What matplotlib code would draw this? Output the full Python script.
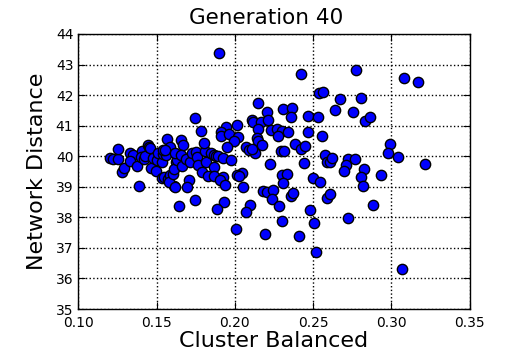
import numpy as np
import matplotlib
matplotlib.use('Agg')
import matplotlib.pyplot as plt

# points (cluster balanced, network distance)
cluster_balanced = [
    0.1200, 0.1225, 0.1257, 0.1253, 0.1279, 0.1293, 0.1332, 0.1349, 0.1332, 0.1378,
    0.1391, 0.1406, 0.1400, 0.1417, 0.1427, 0.1444, 0.1455, 0.1459, 0.1464, 0.1497,
    0.1480, 0.1506, 0.1534, 0.1512, 0.1540, 0.1561, 0.1566, 0.1587, 0.1540, 0.1555,
    0.1534, 0.1550, 0.1572, 0.1587, 0.1612, 0.1582, 0.1603, 0.1623, 0.1614, 0.1642,
    0.1633, 0.1655, 0.1672,
    0.1619, 0.1657, 0.1665, 0.1689, 0.1714, 0.1729, 0.1753, 0.1761, 0.1767, 0.1810,
    0.1814, 0.1793, 0.1827, 0.1848, 0.1865, 0.1878, 0.1869, 0.1865, 0.1891, 0.1927,
    0.1927, 0.1906, 0.1938, 0.1974, 0.1619, 0.1708, 0.1695, 0.1746, 0.1784, 0.1806,
    0.1944, 0.1912, 0.1910, 0.1965, 0.2014, 0.2018, 0.1993, 0.1953, 0.2071, 0.2091,
    0.2129, 0.2049, 0.2014, 0.2029, 0.2054, 0.2095, 0.2071, 0.2008, 0.1931, 0.1887,
    0.1744, 0.1897,
    0.2146, 0.2203, 0.2307, 0.2365, 0.2356, 0.2469, 0.2529, 0.2108, 0.2114, 0.2167,
    0.2214, 0.2148, 0.2231, 0.2271, 0.2299, 0.2276, 0.2337, 0.2467, 0.2556, 0.2140,
    0.2150, 0.2171, 0.2108, 0.2293, 0.2316, 0.2384, 0.2424, 0.2448, 0.2573, 0.2590,
    0.2607, 0.2618, 0.2222, 0.2441, 0.2299, 0.2331, 0.2307, 0.2501, 0.2541, 0.2182,
    0.2207, 0.2245, 0.2239, 0.2282, 0.2358, 0.2369, 0.2586, 0.2607, 0.2478, 0.2299,
    0.2507, 0.2193, 0.2408, 0.2517, 0.2420, 0.2537, 0.2560,
    0.2773, 0.3083, 0.3171, 0.2671, 0.2805, 0.2637, 0.2754, 0.2832, 0.2862, 0.2992,
    0.2981, 0.3045, 0.2724, 0.2767, 0.2709, 0.2696, 0.2824, 0.2805, 0.2818, 0.2934,
    0.2881, 0.2724, 0.3066, 0.3217,
]
network_distance = [
    39.95, 39.92, 39.90, 40.24, 39.49, 39.60, 40.12, 40.05, 39.84, 39.68,
    39.03, 40.18, 39.98, 39.92, 40.01, 40.37, 40.31, 40.26, 39.60, 39.53,
    39.93, 39.88, 39.81, 40.10, 40.07, 40.04, 40.58, 40.31, 40.20, 40.20,
    39.28, 39.31, 39.25, 39.39, 39.03, 39.15, 39.42, 39.80, 39.57, 38.37,
    39.88, 40.54, 40.38,
    40.10, 40.04, 39.68, 39.90, 39.82, 40.12, 40.15, 39.97, 39.71, 40.16,
    39.82, 39.49, 39.35, 40.10, 40.04, 40.01, 39.64, 39.35, 40.01, 39.93,
    39.33, 39.22, 39.06, 39.88, 39.00, 39.22, 38.99, 41.26, 40.84, 40.44,
    40.96, 40.79, 40.65, 40.74, 41.01, 40.63, 40.49, 40.30, 40.29, 40.20,
    40.10, 39.46, 39.39, 39.35, 38.99, 38.41, 38.18, 37.62, 38.51, 38.26,
    38.57, 43.39,
    41.75, 41.44, 41.55, 41.57, 41.28, 41.32, 41.27, 41.19, 41.13, 41.11,
    41.19, 40.88, 40.86, 40.88, 40.84, 40.67, 40.79, 40.78, 40.67, 40.60,
    40.50, 40.38, 40.24, 40.17, 40.18, 40.41, 40.23, 40.34, 40.03, 39.82,
    39.81, 39.95, 39.74, 39.79, 39.38, 39.43, 39.11, 39.28, 39.16, 38.87,
    38.82, 38.91, 38.59, 38.36, 38.69, 38.81, 38.63, 38.76, 38.23, 37.89,
    37.82, 37.47, 37.40, 36.87, 42.68, 42.06, 42.11,
    42.81, 42.56, 42.42, 41.86, 41.90, 41.52, 41.45, 41.16, 41.28, 40.41,
    40.12, 39.98, 39.92, 39.91, 39.70, 39.51, 39.57, 39.31, 39.03, 39.37,
    38.40, 37.99, 36.30, 39.75,
]

x_ticks = [0.10, 0.15, 0.20, 0.25, 0.30, 0.35]
y_ticks = [35, 36, 37, 38, 39, 40, 41, 42, 43, 44]

fig = plt.figure(figsize=(5.32, 3.54), dpi=100, facecolor='white')
ax = fig.add_axes([0.147, 0.127, 0.736, 0.777])
ax.scatter(cluster_balanced, network_distance, s=55, c='b',
           edgecolors='k', linewidths=1.0, zorder=3)

ax.set_xlim(0.10, 0.35)
ax.set_ylim(35, 44)
ax.set_xticks(x_ticks)
ax.set_xticklabels(['%.2f' % t for t in x_ticks])
ax.set_yticks(y_ticks)
ax.tick_params(direction='in', top=True, right=True, labelsize=10, length=5)
ax.tick_params(axis='x', pad=5)
ax.grid(True, linestyle=':', color='k', linewidth=1.0)
for sp in ax.spines.values():
    sp.set_linewidth(1.0)

fig.suptitle('Generation 40', fontsize=15.5, x=0.5, y=1 - 24 / 354, va='baseline')
ax.set_xlabel('Cluster Balanced', fontsize=16, labelpad=1)
ax.set_ylabel('Network Distance', fontsize=16, labelpad=6)

fig.savefig('out.png', dpi=100, facecolor='white')
